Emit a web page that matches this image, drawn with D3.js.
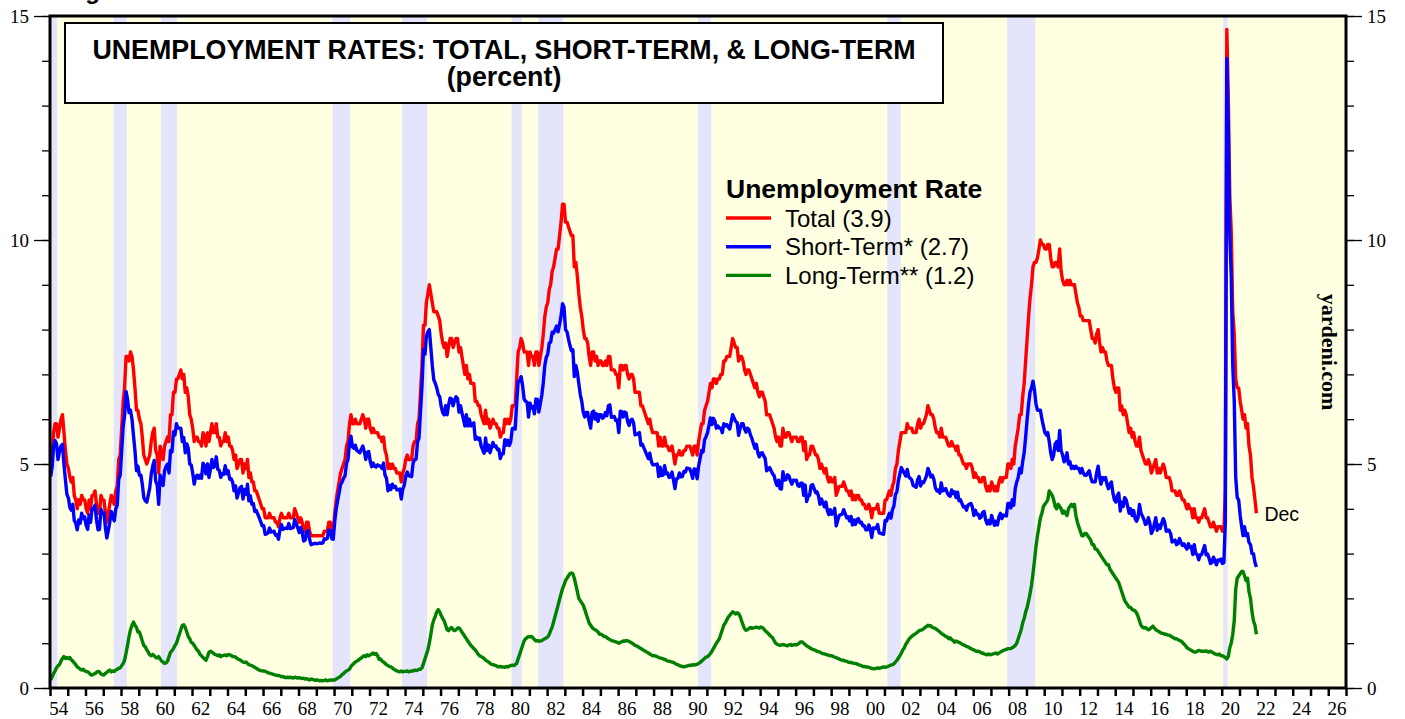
<!DOCTYPE html>
<html>
<head>
<meta charset="utf-8">
<script src="https://cdn.jsdelivr.net/npm/d3@7"></script>
<style>
	body{margin:0;background:#fff;}
	svg{display:block;}
</style>
</head>
<body>
<svg id="chart" width="1405" height="719"></svg>
<script>
// monthly values, Jan 1954 .. Dec 2021 (percent of labor force)
var startYear = 1954;

var total = [
	4.9,5.2,5.7,5.9,5.9,5.6,5.8,6.0,6.1,5.7,5.3,5.0, //54
	4.9,4.7,4.6,4.7,4.3,4.2,4.0,4.2,4.1,4.3,4.2,4.2,
	4.0,3.9,4.2,4.0,4.3,4.3,4.4,4.1,3.9,3.9,4.3,4.2,
	4.2,3.9,3.7,3.9,4.1,4.3,4.2,4.1,4.4,4.5,5.1,5.2,
	5.8,6.4,6.7,7.4,7.4,7.3,7.5,7.4,7.1,6.7,6.2,6.2,
	6.0,5.9,5.6,5.2,5.1,5.0,5.1,5.2,5.5,5.7,5.8,5.3,
	5.2,4.8,5.4,5.2,5.1,5.4,5.5,5.6,5.5,6.1,6.1,6.6, //60
	6.6,6.9,6.9,7.0,7.1,6.9,7.0,6.6,6.7,6.5,6.1,6.0,
	5.8,5.5,5.6,5.6,5.5,5.5,5.4,5.7,5.6,5.4,5.7,5.5,
	5.7,5.9,5.7,5.7,5.9,5.6,5.6,5.4,5.5,5.5,5.7,5.5,
	5.6,5.4,5.4,5.3,5.1,5.2,4.9,5.0,5.1,5.1,4.8,5.0,
	4.9,5.1,4.7,4.8,4.6,4.6,4.4,4.4,4.3,4.2,4.1,4.0,
	4.0,3.8,3.8,3.8,3.9,3.8,3.8,3.8,3.7,3.7,3.6,3.8,
	3.9,3.8,3.8,3.8,3.8,3.9,3.8,3.8,3.8,4.0,3.9,3.8,
	3.7,3.8,3.7,3.5,3.5,3.7,3.7,3.5,3.4,3.4,3.4,3.4,
	3.4,3.4,3.4,3.4,3.4,3.5,3.5,3.5,3.7,3.7,3.5,3.5,
	3.9,4.2,4.4,4.6,4.8,4.9,5.0,5.1,5.4,5.5,5.9,6.1, //70
	5.9,5.9,6.0,5.9,5.9,5.9,6.0,6.1,6.0,5.8,6.0,6.0,
	5.8,5.7,5.8,5.7,5.7,5.7,5.6,5.6,5.5,5.6,5.3,5.2,
	4.9,5.0,4.9,5.0,4.9,4.9,4.8,4.8,4.8,4.6,4.8,4.9,
	5.1,5.2,5.1,5.1,5.1,5.4,5.5,5.5,5.9,6.0,6.6,7.2,
	8.1,8.1,8.6,8.8,9.0,8.8,8.6,8.4,8.4,8.4,8.3,8.2,
	7.9,7.7,7.6,7.7,7.4,7.6,7.8,7.8,7.6,7.7,7.8,7.8,
	7.5,7.6,7.4,7.2,7.0,7.2,6.9,7.0,6.8,6.8,6.8,6.4,
	6.4,6.3,6.3,6.1,6.0,5.9,6.2,5.9,6.0,5.8,5.9,6.0,
	5.9,5.9,5.8,5.8,5.6,5.7,5.7,6.0,5.9,6.0,5.9,6.0,
	6.3,6.3,6.3,6.9,7.5,7.6,7.8,7.7,7.5,7.5,7.5,7.2, //80
	7.5,7.4,7.4,7.2,7.5,7.5,7.2,7.4,7.6,7.9,8.3,8.5,
	8.6,8.9,9.0,9.3,9.4,9.6,9.8,9.8,10.1,10.4,10.8,10.8,
	10.4,10.4,10.3,10.2,10.1,10.1,9.4,9.5,9.2,8.8,8.5,8.3,
	8.0,7.8,7.8,7.7,7.4,7.2,7.5,7.5,7.3,7.4,7.2,7.3,
	7.3,7.2,7.2,7.3,7.2,7.4,7.4,7.1,7.1,7.1,7.0,7.0,
	6.7,7.2,7.2,7.1,7.2,7.2,7.0,6.9,7.0,7.0,6.9,6.6,
	6.6,6.6,6.6,6.3,6.3,6.2,6.1,6.0,5.9,6.0,5.8,5.7,
	5.7,5.7,5.7,5.4,5.6,5.4,5.4,5.6,5.4,5.4,5.3,5.3,
	5.4,5.2,5.0,5.2,5.2,5.3,5.2,5.2,5.3,5.3,5.4,5.4,
	5.4,5.3,5.2,5.4,5.4,5.2,5.5,5.7,5.9,5.9,6.2,6.3, //90
	6.4,6.6,6.8,6.7,6.9,6.9,6.8,6.9,6.9,7.0,7.0,7.3,
	7.3,7.4,7.4,7.4,7.6,7.8,7.7,7.6,7.6,7.3,7.4,7.4,
	7.3,7.1,7.0,7.1,7.1,7.0,6.9,6.8,6.7,6.8,6.6,6.5,
	6.6,6.6,6.5,6.4,6.1,6.1,6.1,6.0,5.9,5.8,5.6,5.5,
	5.6,5.4,5.4,5.8,5.6,5.6,5.7,5.7,5.6,5.5,5.6,5.6,
	5.6,5.5,5.5,5.6,5.6,5.3,5.5,5.1,5.2,5.2,5.4,5.4,
	5.3,5.2,5.2,5.1,4.9,5.0,4.9,4.8,4.9,4.7,4.6,4.7,
	4.6,4.6,4.7,4.3,4.4,4.5,4.5,4.5,4.6,4.5,4.4,4.4,
	4.3,4.4,4.2,4.3,4.2,4.3,4.3,4.2,4.2,4.1,4.1,4.0,
	4.0,4.1,4.0,3.8,4.0,4.0,4.0,4.1,3.9,3.9,3.9,3.9, //00
	4.2,4.2,4.3,4.4,4.3,4.5,4.6,4.9,5.0,5.3,5.5,5.7,
	5.7,5.7,5.7,5.9,5.8,5.8,5.8,5.7,5.7,5.7,5.9,6.0,
	5.8,5.9,5.9,6.0,6.1,6.3,6.2,6.1,6.1,6.0,5.8,5.7,
	5.7,5.6,5.8,5.6,5.6,5.6,5.5,5.4,5.4,5.5,5.4,5.4,
	5.3,5.4,5.2,5.2,5.1,5.0,5.0,4.9,5.0,5.0,5.0,4.9,
	4.7,4.8,4.7,4.7,4.6,4.6,4.7,4.7,4.5,4.4,4.5,4.4,
	4.6,4.5,4.4,4.5,4.4,4.6,4.7,4.6,4.7,4.7,4.7,5.0,
	5.0,4.9,5.1,5.0,5.4,5.6,5.8,6.1,6.1,6.5,6.8,7.3,
	7.8,8.3,8.7,9.0,9.4,9.5,9.5,9.6,9.8,10.0,9.9,9.9,
	9.8,9.8,9.9,9.9,9.6,9.4,9.4,9.5,9.5,9.4,9.8,9.3, //10
	9.1,9.0,9.0,9.1,9.0,9.1,9.0,9.0,9.0,8.8,8.6,8.5,
	8.3,8.3,8.2,8.2,8.2,8.2,8.2,8.0,7.8,7.8,7.7,7.9,
	8.0,7.7,7.5,7.6,7.5,7.5,7.3,7.2,7.2,7.2,6.9,6.7,
	6.6,6.7,6.7,6.2,6.3,6.1,6.2,6.1,5.9,5.7,5.8,5.6,
	5.7,5.5,5.4,5.4,5.6,5.3,5.2,5.1,5.0,5.0,5.1,5.0,
	4.8,4.9,5.0,5.1,4.8,4.9,4.8,4.9,5.0,4.9,4.7,4.7,
	4.7,4.6,4.4,4.4,4.4,4.3,4.3,4.4,4.3,4.2,4.2,4.1,
	4.0,4.1,4.0,4.0,3.8,4.0,3.8,3.8,3.7,3.8,3.8,3.9,
	4.0,3.8,3.8,3.7,3.6,3.6,3.7,3.6,3.5,3.6,3.6,3.6,
	3.5,3.5,4.4,14.7,13.2,11.0,10.2,8.4,7.9,6.9,6.7,6.7, //20
	6.4,6.2,6.0,6.1,5.8,5.9,5.4,5.2,4.7,4.5,4.2,3.9
];

// unemployed less than 27 weeks
var shortTerm = [
	4.72,4.95,5.38,5.52,5.45,5.10,5.28,5.40,5.44,5.00,4.64,4.32, //54
	4.24,4.02,3.97,4.10,3.74,3.68,3.53,3.75,3.68,3.90,3.78,3.82,
	3.63,3.54,3.86,3.70,4.01,3.99,4.08,3.75,3.53,3.54,3.99,3.90,
	3.91,3.57,3.35,3.52,3.70,3.94,3.82,3.73,4.00,4.08,4.66,4.75,
	5.30,5.85,6.08,6.62,6.45,6.15,6.20,6.00,5.63,5.30,4.85,4.95,
	4.75,4.75,4.55,4.25,4.18,4.15,4.30,4.46,4.78,4.95,5.08,4.62,
	4.53,4.10,4.75,4.60,4.52,4.85,4.94,5.00,4.80,5.30,5.27,5.72, //60
	5.65,5.90,5.80,5.80,5.80,5.50,5.59,5.25,5.45,5.35,5.00,4.98,
	4.80,4.55,4.70,4.75,4.68,4.75,4.68,5.02,4.95,4.78,5.00,4.70,
	4.88,5.10,4.92,4.95,5.16,4.88,4.86,4.70,4.78,4.77,4.96,4.78,
	4.85,4.66,4.67,4.60,4.40,4.51,4.24,4.36,4.47,4.50,4.22,4.43,
	4.32,4.55,4.18,4.29,4.10,4.12,3.94,3.96,3.88,3.80,3.71,3.62,
	3.62,3.43,3.44,3.46,3.57,3.48,3.49,3.50,3.41,3.42,3.32,3.53,
	3.65,3.54,3.56,3.57,3.56,3.67,3.56,3.57,3.58,3.76,3.67,3.58,
	3.47,3.58,3.49,3.28,3.30,3.49,3.51,3.32,3.20,3.21,3.22,3.23,
	3.22,3.23,3.24,3.23,3.24,3.33,3.32,3.34,3.53,3.52,3.33,3.32,
	3.72,4.00,4.18,4.36,4.54,4.60,4.68,4.74,5.02,5.10,5.48,5.62, //70
	5.38,5.35,5.42,5.30,5.28,5.25,5.33,5.40,5.28,5.10,5.26,5.28,
	5.06,4.94,5.02,4.95,4.93,4.98,4.96,4.95,4.90,5.02,4.75,4.68,
	4.40,4.52,4.43,4.55,4.48,4.50,4.42,4.43,4.44,4.22,4.44,4.53,
	4.73,4.82,4.74,4.73,4.72,5.02,5.10,5.11,5.50,5.58,6.18,6.75,
	7.55,7.45,7.85,7.95,8.00,7.60,7.20,6.88,6.80,6.70,6.55,6.50,
	6.28,6.15,6.10,6.30,6.10,6.32,6.47,6.45,6.30,6.42,6.50,6.46,
	6.16,6.30,6.15,6.00,5.85,6.10,5.85,6.00,5.85,5.88,5.92,5.55,
	5.60,5.55,5.58,5.40,5.32,5.24,5.58,5.30,5.42,5.25,5.37,5.48,
	5.39,5.40,5.32,5.33,5.12,5.23,5.23,5.54,5.42,5.53,5.41,5.50,
	5.79,5.80,5.78,6.35,6.85,6.85,6.95,6.75,6.45,6.40,6.38,6.05, //80
	6.36,6.25,6.28,6.12,6.45,6.44,6.16,6.35,6.54,6.82,7.20,7.38,
	7.46,7.70,7.72,7.94,7.92,8.00,8.08,7.95,8.12,8.30,8.58,8.50,
	8.00,7.95,7.80,7.65,7.53,7.55,6.95,7.20,7.05,6.80,6.55,6.40,
	6.15,6.05,6.15,6.15,5.95,5.80,6.15,6.18,6.00,6.12,5.95,6.10,
	6.10,6.02,6.05,6.15,6.08,6.30,6.32,6.04,6.05,6.06,5.97,5.98,
	5.70,6.18,6.17,6.05,6.16,6.14,5.95,5.86,5.98,6.00,5.92,5.65,
	5.66,5.68,5.70,5.42,5.44,5.36,5.28,5.20,5.12,5.24,5.06,4.98,
	4.98,4.99,5.00,4.72,4.93,4.74,4.75,4.96,4.78,4.80,4.70,4.71,
	4.82,4.63,4.45,4.67,4.68,4.80,4.71,4.72,4.83,4.82,4.91,4.90,
	4.89,4.80,4.68,4.89,4.88,4.67,4.95,5.13,5.30,5.27,5.54,5.61, //90
	5.70,5.87,6.03,5.88,6.02,5.96,5.80,5.85,5.80,5.80,5.70,5.90,
	5.85,5.88,5.82,5.78,5.94,6.10,6.02,5.95,5.92,5.64,5.80,5.90,
	5.90,5.78,5.71,5.80,5.77,5.65,5.57,5.46,5.35,5.44,5.25,5.16,
	5.24,5.25,5.18,5.12,4.85,4.88,4.92,4.85,4.78,4.74,4.60,4.52,
	4.64,4.45,4.44,4.83,4.64,4.65,4.76,4.74,4.63,4.55,4.64,4.63,
	4.64,4.52,4.50,4.57,4.57,4.30,4.53,4.16,4.28,4.30,4.52,4.54,
	4.45,4.36,4.38,4.29,4.10,4.22,4.13,4.04,4.15,3.96,3.87,3.98,
	3.88,3.90,4.01,3.62,3.74,3.85,3.87,3.88,3.98,3.90,3.80,3.82,
	3.73,3.83,3.64,3.75,3.65,3.76,3.78,3.69,3.70,3.62,3.62,3.53,
	3.53,3.64,3.55,3.36,3.57,3.57,3.56,3.65,3.46,3.45,3.44,3.43, //00
	3.74,3.73,3.82,3.90,3.79,3.98,4.06,4.32,4.38,4.63,4.78,4.92,
	4.85,4.80,4.73,4.88,4.72,4.68,4.65,4.52,4.50,4.48,4.65,4.72,
	4.51,4.60,4.58,4.65,4.73,4.90,4.82,4.71,4.75,4.66,4.47,4.40,
	4.42,4.35,4.58,4.40,4.42,4.45,4.36,4.30,4.28,4.42,4.34,4.38,
	4.25,4.37,4.18,4.20,4.12,4.04,4.05,3.97,4.08,4.10,4.12,4.04,
	3.85,3.97,3.88,3.88,3.79,3.82,3.92,3.94,3.75,3.66,3.74,3.66,
	3.85,3.74,3.63,3.72,3.64,3.82,3.90,3.78,3.86,3.85,3.84,4.12,
	4.12,4.02,4.20,4.08,4.45,4.60,4.70,4.90,4.80,5.05,5.25,5.60,
	6.00,6.35,6.60,6.70,6.85,6.65,6.35,6.20,6.20,6.20,6.00,5.85,
	5.70,5.65,5.70,5.50,5.25,5.10,5.20,5.45,5.50,5.30,5.75,5.30, //10
	5.20,5.05,5.10,5.25,5.00,5.05,4.90,4.95,4.90,4.95,4.90,4.90,
	4.80,4.90,4.80,4.75,4.75,4.80,4.85,4.70,4.60,4.60,4.60,4.80,
	4.95,4.70,4.55,4.70,4.65,4.70,4.55,4.45,4.55,4.60,4.35,4.20,
	4.15,4.30,4.35,3.95,4.15,4.05,4.25,4.20,4.05,3.90,4.00,3.85,
	3.96,3.78,3.72,3.80,4.10,3.90,3.84,3.76,3.65,3.68,3.80,3.68,
	3.45,3.52,3.66,3.80,3.52,3.64,3.56,3.68,3.78,3.70,3.50,3.52,
	3.52,3.44,3.26,3.28,3.30,3.20,3.22,3.34,3.25,3.18,3.22,3.15,
	3.10,3.22,3.14,3.16,2.98,3.20,3.00,2.98,2.86,2.97,2.98,3.08,
	3.18,2.97,2.99,2.90,2.78,2.80,2.92,2.84,2.75,2.86,2.84,2.88,
	2.78,2.80,3.72,14.05,12.50,10.10,9.20,7.20,6.40,4.70,4.25,4.20, //20
	3.85,3.60,3.40,3.60,3.40,3.45,3.25,3.20,3.00,3.00,2.80,2.70
];

// unemployed 27 weeks and over
var longTerm = [
	.18,.25,.32,.38,.45,.50,.52,.60,.66,.70,.66,.68, //54
	.66,.68,.63,.60,.56,.52,.47,.45,.42,.40,.42,.38,
	.37,.36,.34,.30,.29,.31,.32,.35,.37,.36,.31,.30,
	.29,.33,.35,.38,.40,.36,.38,.37,.40,.42,.44,.45,
	.50,.55,.62,.78,.95,1.15,1.30,1.40,1.47,1.40,1.35,1.25,
	1.25,1.15,1.05,.95,.92,.85,.80,.74,.72,.75,.72,.68,
	.67,.70,.65,.60,.58,.55,.56,.60,.70,.80,.83,.88, //60
	.95,1.00,1.10,1.20,1.30,1.40,1.41,1.35,1.25,1.15,1.10,1.02,
	1.00,.95,.90,.85,.82,.75,.72,.68,.65,.62,.70,.80,
	.82,.80,.78,.75,.74,.72,.74,.70,.72,.73,.74,.72,
	.75,.74,.73,.70,.70,.69,.66,.64,.63,.60,.58,.57,
	.58,.55,.52,.51,.50,.48,.46,.44,.42,.40,.39,.38,
	.38,.37,.36,.34,.33,.32,.31,.30,.29,.28,.28,.27,
	.25,.26,.24,.23,.24,.23,.24,.23,.22,.24,.23,.22,
	.23,.22,.21,.22,.20,.21,.19,.18,.20,.19,.18,.17,
	.18,.17,.16,.17,.16,.17,.18,.16,.17,.18,.17,.18,
	.18,.20,.22,.24,.26,.30,.32,.36,.38,.40,.42,.48, //70
	.52,.55,.58,.60,.62,.65,.67,.70,.72,.70,.74,.72,
	.74,.76,.78,.75,.77,.72,.64,.65,.60,.58,.55,.52,
	.50,.48,.47,.45,.42,.40,.38,.37,.36,.38,.36,.37,
	.37,.38,.36,.37,.38,.38,.40,.39,.40,.42,.42,.45,
	.55,.65,.75,.85,1.0,1.2,1.4,1.52,1.6,1.7,1.75,1.7,
	1.62,1.55,1.5,1.4,1.3,1.28,1.33,1.35,1.3,1.28,1.3,1.34,
	1.34,1.3,1.25,1.2,1.15,1.1,1.05,1.0,.95,.92,.88,.85,
	.8,.75,.72,.7,.68,.66,.62,.6,.58,.55,.53,.52,
	.51,.5,.48,.47,.48,.47,.47,.46,.48,.47,.49,.50,
	.51,.50,.52,.55,.65,.75,.85,.95,1.05,1.1,1.12,1.15, //80
	1.14,1.15,1.12,1.08,1.05,1.06,1.04,1.05,1.06,1.08,1.1,1.12,
	1.14,1.2,1.28,1.36,1.48,1.6,1.72,1.85,1.98,2.1,2.22,2.3,
	2.4,2.45,2.5,2.55,2.57,2.55,2.45,2.3,2.15,2.0,1.95,1.9,
	1.85,1.75,1.65,1.55,1.45,1.4,1.35,1.32,1.3,1.28,1.25,1.2,
	1.2,1.18,1.15,1.15,1.12,1.1,1.08,1.06,1.05,1.04,1.03,1.02,
	1.0,1.02,1.03,1.05,1.04,1.06,1.05,1.04,1.02,1.0,.98,.95,
	.94,.92,.9,.88,.86,.84,.82,.8,.78,.76,.74,.72,
	.72,.71,.70,.68,.67,.66,.65,.64,.62,.60,.60,.59,
	.58,.57,.55,.53,.52,.50,.49,.48,.47,.48,.49,.50,
	.51,.50,.52,.51,.52,.53,.55,.57,.60,.63,.66,.69, //90
	.70,.73,.77,.82,.88,.94,1.0,1.05,1.1,1.2,1.3,1.4,
	1.45,1.52,1.58,1.62,1.66,1.7,1.68,1.65,1.68,1.66,1.6,1.5,
	1.4,1.32,1.29,1.3,1.33,1.35,1.33,1.34,1.35,1.36,1.35,1.34,
	1.36,1.35,1.32,1.28,1.25,1.22,1.18,1.15,1.12,1.06,1.0,.98,
	.96,.95,.96,.97,.96,.95,.94,.96,.97,.95,.96,.97,
	.96,.98,1.0,1.03,1.03,1.0,.97,.94,.92,.90,.88,.86,
	.85,.84,.82,.81,.80,.78,.77,.76,.75,.74,.73,.72,
	.72,.7,.69,.68,.66,.65,.63,.62,.62,.60,.60,.58,
	.57,.57,.56,.55,.55,.54,.52,.51,.50,.48,.48,.47,
	.47,.46,.45,.44,.43,.43,.44,.45,.44,.45,.46,.47, //00
	.46,.47,.48,.50,.51,.52,.54,.58,.62,.67,.72,.78,
	.85,.9,.97,1.02,1.08,1.12,1.15,1.18,1.2,1.22,1.25,1.28,
	1.29,1.3,1.32,1.35,1.37,1.4,1.38,1.39,1.35,1.34,1.33,1.3,
	1.28,1.25,1.22,1.2,1.18,1.15,1.14,1.1,1.12,1.08,1.06,1.02,
	1.05,1.03,1.02,1.0,.98,.96,.95,.93,.92,.9,.88,.86,
	.85,.83,.82,.82,.81,.78,.78,.76,.75,.74,.76,.74,
	.75,.76,.77,.78,.76,.78,.80,.82,.84,.85,.86,.88,
	.88,.88,.90,.92,.95,1.0,1.1,1.2,1.3,1.45,1.55,1.7,
	1.8,1.95,2.1,2.3,2.55,2.85,3.15,3.4,3.6,3.8,3.9,4.05,
	4.1,4.15,4.2,4.4,4.35,4.3,4.2,4.05,4.0,4.1,4.05,4.0, //10
	3.9,3.95,3.9,3.85,4.0,4.05,4.1,4.05,4.1,3.85,3.7,3.6,
	3.5,3.4,3.4,3.45,3.45,3.4,3.35,3.3,3.2,3.2,3.1,3.1,
	3.05,3.0,2.95,2.9,2.85,2.8,2.75,2.75,2.65,2.6,2.55,2.5,
	2.45,2.4,2.35,2.25,2.15,2.05,1.95,1.9,1.85,1.8,1.8,1.75,
	1.74,1.72,1.68,1.6,1.5,1.4,1.36,1.34,1.35,1.32,1.3,1.32,
	1.35,1.38,1.34,1.3,1.28,1.26,1.24,1.22,1.22,1.2,1.2,1.18,
	1.18,1.16,1.14,1.12,1.1,1.1,1.08,1.06,1.05,1.02,.98,.95,
	.9,.88,.86,.84,.82,.8,.8,.82,.84,.83,.82,.82,
	.82,.83,.81,.8,.82,.8,.78,.76,.75,.74,.76,.72,
	.72,.7,.68,.65,.7,.9,1.0,1.2,1.5,2.2,2.45,2.5, //20
	2.55,2.6,2.6,2.5,2.4,2.45,2.15,2.0,1.7,1.5,1.4,1.2
];

// recessions: [peak month, trough month]
var recessions = [
	["1953-07","1954-05"],["1957-08","1958-04"],["1960-04","1961-02"],
	["1969-12","1970-11"],["1973-11","1975-03"],["1980-01","1980-07"],
	["1981-07","1982-11"],["1990-07","1991-03"],["2001-03","2001-11"],
	["2007-12","2009-06"],["2020-02","2020-04"]
];

var yearTicks = d3.range(1954, 2028);
var yearLabels = d3.range(1954, 2027, 2);
var yMajor = [0, 5, 10, 15];
var yMinor = d3.range(0, 16);

var legendTitle = "Unemployment Rate";
var legendNames = ["Total (3.9)", "Short-Term* (2.7)", "Long-Term** (1.2)"];
var seriesColors = ["#ff0000", "#0000ff", "#008000"];

var titleLines = ["UNEMPLOYMENT RATES: TOTAL, SHORT-TERM, & LONG-TERM", "(percent)"];

// ---------------------------------------------------------
var svg = d3.select("#chart");
// plot box (note: "top" is taken by window.top, so use pTop etc.)
var pLeft = 50, pRight = 1346, pTop = 16, pBottom = 688;
var sans = "'Liberation Sans', Arial, Helvetica, sans-serif";
var serif = "'Liberation Serif', 'Times New Roman', serif";

var parseMonth = d3.utcParse("%Y-%m");
var x = d3.scaleUtc()
	.domain([Date.UTC(1954, 0, 1), Date.UTC(2027, 0, 1)])
	.range([pLeft, pRight]);
var y = d3.scaleLinear().domain([0, 15]).range([pBottom, pTop]);

function monthDate(i){
	// middle of the i-th month
	return new Date(Date.UTC(startYear, i, 15));
}

svg.append("defs").append("clipPath").attr("id", "plotclip")
	.append("rect")
	.attr("x", pLeft).attr("y", pTop)
	.attr("width", pRight - pLeft).attr("height", pBottom - pTop);

// background
svg.append("rect")
	.attr("x", pLeft).attr("y", pTop)
	.attr("width", pRight - pLeft).attr("height", pBottom - pTop)
	.attr("fill", "#ffffe2");

var plot = svg.append("g").attr("clip-path", "url(#plotclip)");

// recession bands
plot.selectAll(".recession")
	.data(recessions)
	.enter()
	.append("rect")
	.attr("class", "recession")
	.attr("x", function(d){ return x(parseMonth(d[0])); })
	.attr("y", pTop)
	.attr("width", function(d){
		var end = d3.utcMonth.offset(parseMonth(d[1]), 1);
		return x(end) - x(parseMonth(d[0]));
	})
	.attr("height", pBottom - pTop)
	.attr("fill", "#e4e4fa");

// series
var line = d3.line()
	.x(function(d, i){ return x(monthDate(i)); })
	.y(function(d){ return y(d); });

[total, shortTerm, longTerm].forEach(function(s, k){
	plot.append("path")
		.datum(s)
		.attr("d", line)
		.attr("fill", "none")
		.attr("stroke", seriesColors[k])
		.attr("stroke-width", 3.4)
		.attr("stroke-linejoin", "round");
});

// frame
svg.append("rect")
	.attr("x", pLeft).attr("y", pTop)
	.attr("width", pRight - pLeft).attr("height", pBottom - pTop)
	.attr("fill", "none")
	.attr("stroke", "#000")
	.attr("stroke-width", 3);

// y axes (minor + major ticks on both sides)
function yAxis(gen, xpos){
	svg.append("g")
		.attr("transform", "translate(" + xpos + ",0)")
		.call(gen(y).tickValues(yMinor).tickSize(8).tickFormat(""))
		.call(function(g){ g.select(".domain").remove(); });
	var g = svg.append("g")
		.attr("transform", "translate(" + xpos + ",0)")
		.call(gen(y).tickValues(yMajor).tickSize(16).tickPadding(5).tickFormat(d3.format("d")));
	g.select(".domain").remove();
	g.selectAll("text")
		.attr("font-family", serif)
		.attr("font-size", 19)
		.attr("fill", "#000");
}
yAxis(d3.axisLeft, pLeft);
yAxis(d3.axisRight, pRight);
svg.selectAll(".tick line").attr("stroke", "#000").attr("stroke-width", 1.3);

// x axis: a tick per year, labels centred in the even years
var xg = svg.append("g")
	.attr("transform", "translate(0," + pBottom + ")")
	.call(d3.axisBottom(x)
		.tickValues(yearTicks.map(function(yr){ return new Date(Date.UTC(yr, 0, 1)); }))
		.tickSize(8)
		.tickFormat(""));
xg.select(".domain").remove();
xg.selectAll(".tick line").attr("stroke", "#000").attr("stroke-width", 2.5);

svg.selectAll(".yearlabel")
	.data(yearLabels)
	.enter()
	.append("text")
	.attr("class", "yearlabel")
	.attr("x", function(d){ return x(new Date(Date.UTC(d, 6, 1))); })
	.attr("y", 715)
	.attr("text-anchor", "middle")
	.attr("font-family", serif)
	.attr("font-size", 19)
	.text(function(d){ return d3.format("02d")(d % 100); });

// title box
svg.append("rect")
	.attr("x", 65).attr("y", 23)
	.attr("width", 878).attr("height", 80)
	.attr("fill", "#fff")
	.attr("stroke", "#000")
	.attr("stroke-width", 2);
svg.selectAll(".title")
	.data(titleLines)
	.enter()
	.append("text")
	.attr("class", "title")
	.attr("x", 504)
	.attr("y", function(d, i){ return 59 + i * 27; })
	.attr("text-anchor", "middle")
	.attr("font-family", sans)
	.attr("font-weight", "bold")
	.attr("font-size", 26.8)
	.text(function(d){ return d; });

// cut-off figure caption at the very top
svg.append("text")
	.attr("x", 64).attr("y", -1)
	.attr("font-family", sans)
	.attr("font-weight", "bold")
	.attr("font-size", 24)
	.text("Figure 1");

// legend
var legend = svg.append("g").attr("transform", "translate(726,0)");
legend.append("text")
	.attr("x", 0).attr("y", 198)
	.attr("font-family", sans)
	.attr("font-weight", "bold")
	.attr("font-size", 26.5)
	.text(legendTitle);
var items = legend.selectAll(".item")
	.data(legendNames)
	.enter()
	.append("g")
	.attr("transform", function(d, i){ return "translate(0," + (218 + i * 28.7) + ")"; });
items.append("line")
	.attr("x1", 0).attr("x2", 45)
	.attr("stroke", function(d, i){ return seriesColors[i]; })
	.attr("stroke-width", 3.4);
items.append("text")
	.attr("x", 59).attr("y", 8.5)
	.attr("font-family", sans)
	.attr("font-size", 24)
	.text(function(d){ return d; });

// end label
svg.append("text")
	.attr("x", x(monthDate(total.length - 1)) + 8)
	.attr("y", 521)
	.attr("font-family", sans)
	.attr("font-size", 19.5)
	.text("Dec");

// source
svg.append("text")
	.attr("transform", "translate(1322,352) rotate(90)")
	.attr("text-anchor", "middle")
	.attr("font-family", serif)
	.attr("font-weight", "bold")
	.attr("font-size", 22)
	.text("yardeni.com");
</script>
</body>
</html>
